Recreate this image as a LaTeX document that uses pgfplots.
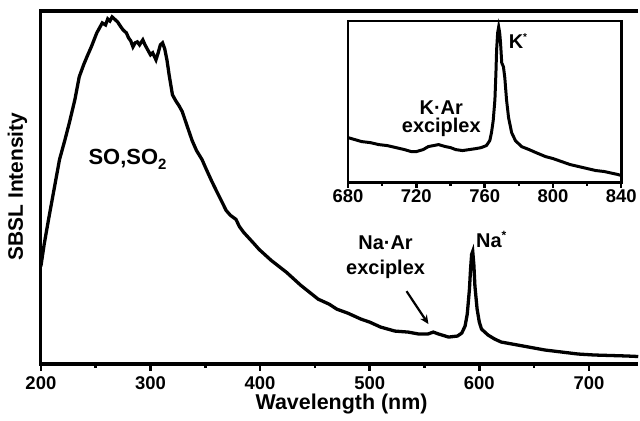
\documentclass[border=0pt]{standalone}
\usepackage{pgfplots}
\pgfplotsset{compat=1.18}
\usetikzlibrary{arrows.meta}
\usepackage{fontspec}
\setmainfont{Liberation Sans}
\newcommand{\fs}[1]{\fontsize{#1}{#1}\selectfont}

\begin{document}
\begin{tikzpicture}
\path (-41pt,-57pt) rectangle (599pt,365pt);
\begin{axis}[
  scale only axis, width=599pt, height=354pt,
  xmin=200, xmax=745, ymin=0, ymax=354,
  clip=false,
  axis line style={draw=none},
  xtick={200,300,400,500,600,700},
  xticklabels={200,300,400,500,600,700},
  ytick=\empty,
  major tick length=0pt, minor tick length=0pt,
  tick style={draw=none},
  xticklabel style={font=\fs{18.5}\bfseries, anchor=north, yshift=-9.2pt},
]
\addplot[line width=3.3pt, black] coordinates {
(200,98) (203,120) (207,145) (212,175) (217,205) (222,225) (226,242) (231,265)
(235,288) (239,300) (242,308) (246,318) (251,332) (254,338) (256,342) (259,340)
(261,346) (263,344) (265,348) (268,345) (270,343) (273,338) (275,335) (278,332)
(280,327) (282,324) (284,318) (286,322) (288,323) (290,320) (293,325) (295,320)
(297,316) (300,310) (302,312) (305,305) (307,312) (309,320) (311,322) (313,316)
(315,305) (317,290) (320,270) (323,264) (326,259) (329,253) (333,240) (338,224)
(342,214) (347,205) (351,195) (356,183) (360,174) (365,163) (369,154) (373,149)
(378,145) (381,138) (385,132) (390,126) (395,120) (399,115) (405,109) (410,104)
(417,98) (424,92) (430,86) (437,79) (445,72) (453,65) (463,60) (470,55)
(480,51) (492,45) (500,42) (510,37) (523,33) (535,32) (545,30) (553,30)
(558,32) (563,30) (572,27) (580,28) (584,31) (587,38) (589,50) (591,75)
(592,95) (593,110) (594,113) (595,100) (596,78) (598,55) (600,42) (602,35)
(608,29) (614,25) (620,22) (630,20) (645,17) (660,14) (675,12) (690,10)
(705,9) (720,8.5) (735,8) (745,7.5)
};
\draw[line width=3.2pt, line join=miter] (rel axis cs:1,1) -- (rel axis cs:0,1) -- (rel axis cs:0,0) -- (rel axis cs:1,0);
\pgfplotsinvokeforeach{200,300,400,500,600,700}{\draw[line width=2.6pt] (axis cs:#1,0) -- ++(0pt,-7pt);}
\pgfplotsinvokeforeach{250,350,450,550,650}{\draw[line width=2.6pt] (axis cs:#1,0) -- ++(0pt,-4.5pt);}
\node[anchor=base, font=\fs{22}\bfseries] at (axis cs:279,200) {SO,SO\raisebox{-5pt}{\fs{15}2}};
\node[anchor=base, font=\fs{20}\bfseries] at (axis cs:514.5,115) {Na·Ar};
\node[anchor=base, font=\fs{20}\bfseries] at (axis cs:514.5,90) {exciplex};
\node[anchor=base west, font=\fs{20}\bfseries, inner sep=0pt] at (axis cs:597,117) {Na\raisebox{8pt}{\fs{12}*}};
\draw[-{Stealth[length=9pt,width=8pt]}, line width=2.2pt, black] (axis cs:533.6,73) -- (axis cs:553.6,40);
\end{axis}

\begin{axis}[
  scale only axis, width=274pt, height=162pt,
  at={(308pt,182pt)}, anchor=south west,
  xmin=680, xmax=840, ymin=0, ymax=162,
  clip=false,
  axis line style={draw=none},
  xtick={680,720,760,800,840},
  xticklabels={680,720,760,800,840},
  ytick=\empty,
  major tick length=0pt, minor tick length=0pt,
  tick style={draw=none},
  xticklabel style={font=\fs{18.5}\bfseries, anchor=north, yshift=-3.7pt},
]
\addplot[line width=3pt, black] coordinates {
(680,45) (684,43) (688,41) (693,40) (698,38) (703,37) (708,35) (713,33)
(717,31) (720,31) (724,33) (727,36) (730,37) (733,38) (737,36) (740,35)
(743,33) (747,32) (751,33) (755,34) (758,35) (761,37) (763,42) (764,50)
(765,62) (766,83) (766.6,110) (767,133) (767.6,150) (768.2,156) (768.8,150)
(769.3,140) (770,120) (771,116) (771.8,105) (772.8,83) (774,65) (775.8,50)
(778,42) (781.6,36) (786,33) (790,30) (795.6,26) (800,24) (805,21) (810,18)
(815,16) (820,14) (825,12) (830,11) (838,8) (840,7)
};
\draw[line width=2.7pt] (rel axis cs:0,0) rectangle (rel axis cs:1,1);
\pgfplotsinvokeforeach{680,720,760,800,840}{\draw[line width=2.4pt] (axis cs:#1,0) -- ++(0pt,-5.5pt);}
\pgfplotsinvokeforeach{700,740,780,820}{\draw[line width=2.4pt] (axis cs:#1,0) -- ++(0pt,-3.5pt);}
\node[anchor=base, font=\fs{20}\bfseries] at (axis cs:734.6,68) {K·Ar};
\node[anchor=base, font=\fs{20}\bfseries] at (axis cs:734.6,50) {exciplex};
\node[anchor=base west, font=\fs{20}\bfseries, inner sep=0pt] at (axis cs:774,134) {K\raisebox{8pt}{\fs{10}*}};
\end{axis}

\node[rotate=90, font=\fs{21}\bfseries] at (-23.5pt,178pt) {SBSL Intensity};
\node[anchor=base, font=\fs{21.5}\bfseries] at (301.5pt,-46pt) {Wavelength (nm)};
\end{tikzpicture}
\end{document}
